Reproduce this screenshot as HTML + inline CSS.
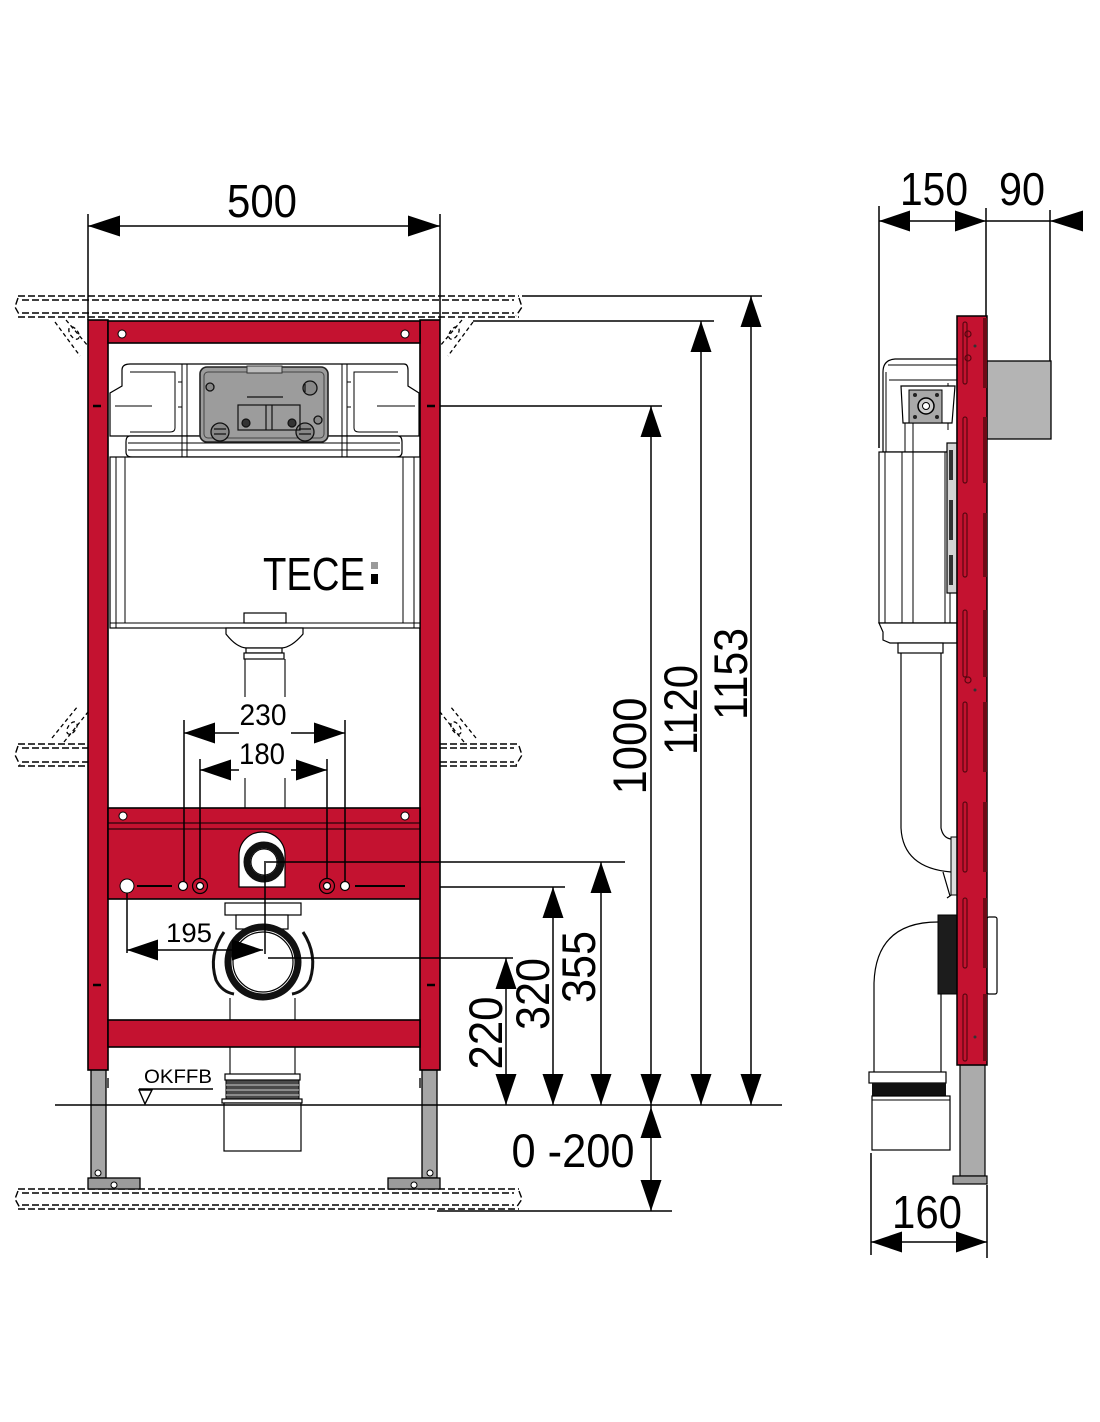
<!DOCTYPE html>
<html><head><meta charset="utf-8"><style>
html,body{margin:0;padding:0;background:#fff;}
svg{display:block;}
text{font-family:"Liberation Sans",Arial,sans-serif;fill:#000;}
</style></head><body>
<svg width="1100" height="1422" viewBox="0 0 1100 1422" xmlns="http://www.w3.org/2000/svg">
<rect width="1100" height="1422" fill="#fff"/>

<!-- dashed wall / ceiling / floor bands -->
<g fill="none" stroke="#000" stroke-width="1.4" stroke-dasharray="7,3">
  <path d="M18,296 H519 M22,300 H514 M22,313 H514 M18,317 H519"/>
  <path d="M18,298 L15,307 L20,316 M519,298 L522,307 L516,316"/>
  <path d="M18,744 H88 M22,748 H88 M22,762 H88 M18,766 H88 M18,746 L15,755 L20,765"/>
  <path d="M440,744 H519 M440,748 H514 M440,762 H514 M440,766 H519 M519,746 L522,755 L516,765"/>
  <path d="M18,1189 H519 M22,1193 H514 M22,1205 H514 M18,1209 H519 M18,1191 L15,1199 L20,1208 M519,1191 L522,1199 L516,1208"/>
</g>
<!-- anchors (schematic) -->
<g fill="none" stroke="#000" stroke-width="1.3" stroke-dasharray="4,3">
  <path d="M55,322 L80,356 M66,320 L88,346"/>
  <ellipse cx="74" cy="333" rx="4" ry="7" transform="rotate(-35 74 333)"/>
  <path d="M473,322 L448,356 M462,320 L440,346"/>
  <ellipse cx="454" cy="333" rx="4" ry="7" transform="rotate(35 454 333)"/>
  <path d="M52,738 L78,706 M64,742 L88,712"/>
  <ellipse cx="72" cy="728" rx="4" ry="7" transform="rotate(35 72 728)"/>
  <path d="M476,738 L450,706 M464,742 L440,712"/>
  <ellipse cx="456" cy="728" rx="4" ry="7" transform="rotate(-35 456 728)"/>
</g>

<!-- ===== FRONT VIEW ===== -->
<!-- legs -->
<g stroke="#000" stroke-width="1.3">
  <rect x="91" y="1068" width="15" height="110" fill="#a6a6a6"/>
  <rect x="422" y="1068" width="15" height="110" fill="#a6a6a6"/>
  <rect x="88" y="1178" width="52" height="11" fill="#9a9a9a"/>
  <rect x="388" y="1178" width="52" height="11" fill="#9a9a9a"/>
</g>
<g fill="#fff" stroke="#000" stroke-width="1">
  <circle cx="98" cy="1173" r="3"/><circle cx="114" cy="1185" r="3"/>
  <circle cx="430" cy="1173" r="3"/><circle cx="414" cy="1185" r="3"/>
</g>
<rect x="106" y="1078" width="3" height="10" fill="#555"/>
<rect x="419" y="1078" width="3" height="10" fill="#555"/>

<!-- posts -->
<g fill="#c41230" stroke="#000" stroke-width="1.6">
  <rect x="88" y="320" width="20" height="750"/>
  <rect x="420" y="320" width="20" height="750"/>
  <rect x="108" y="321" width="312" height="22"/>
</g>
<g fill="#fff" stroke="#000" stroke-width="1">
  <circle cx="122" cy="334" r="4"/><circle cx="405" cy="334" r="4"/>
</g>
<g stroke="#000" stroke-width="2.5">
  <line x1="93" y1="406" x2="101" y2="406"/><line x1="427" y1="406" x2="435" y2="406"/>
  <line x1="93" y1="985" x2="101" y2="985"/><line x1="427" y1="985" x2="435" y2="985"/>
</g>

<!-- cistern upper -->
<g fill="#fff" stroke="#000" stroke-width="1.2">
  <path d="M122,370 Q122,364 130,364 L404,364 Q408,364 408,370 L408,386 L419,393 L419,436 L110,436 L110,393 L122,386 Z"/>
  <path d="M130,436 L398,436 Q402,436 402,442 L402,452 Q402,457 396,457 L132,457 Q126,457 126,452 L126,442 Q126,436 130,436 Z"/>
</g>
<g fill="none" stroke="#000" stroke-width="1">
  <path d="M182,364 V457 M187,364 V457 M342,364 V457 M347,364 V457"/>
  <path d="M128,443 H400 M128,450 H400"/>
  <path d="M130,372 H175 V428 Q175,432 170,432 H130 M398,372 H354 V428 Q354,432 359,432 H398"/>
  <path d="M115,406 H152 M377,406 H415"/>
  <path d="M178,382 h4 M178,407 h4 M347,382 h4 M347,407 h4"/>
</g>
<!-- grey panel -->
<rect x="200" y="367" width="128" height="75" rx="7" fill="#9c9c9c" stroke="#222" stroke-width="1.6"/>
<rect x="204" y="372" width="120" height="66" rx="4" fill="none" stroke="#444" stroke-width="1"/>
<rect x="247" y="366" width="35" height="7" fill="#bdbdbd" stroke="#333" stroke-width="1"/>
<g stroke="#111" stroke-width="1.3" fill="#888">
  <circle cx="220" cy="432" r="9"/><circle cx="305" cy="432" r="9"/>
  <circle cx="310" cy="388" r="7"/>
  <circle cx="210" cy="387" r="4"/><circle cx="318" cy="420" r="4"/>
</g>
<g stroke="#111" stroke-width="1.2" fill="none">
  <path d="M214,429 H226 M214,434 H226 M299,429 H311 M299,434 H311 M305,384 V392"/>
  <rect x="238" y="405" width="62" height="25"/>
  <path d="M266,405 V430 M272,405 V430 M247,397 H283"/>
  <circle cx="246" cy="423" r="4" fill="#333"/><circle cx="292" cy="423" r="4" fill="#333"/>
</g>
<!-- cistern lower -->
<rect x="110" y="457" width="310" height="171" fill="#fff" stroke="#000" stroke-width="1.2"/>
<g stroke="#000" stroke-width="1">
  <path d="M116,457 V628 M125,457 V623 M403,457 V623 M414,457 V628 M110,623 H420"/>
</g>
<text x="263" y="590" font-size="46" textLength="102" lengthAdjust="spacingAndGlyphs">TECE</text>
<rect x="371" y="562" width="7" height="7" fill="#9a9a9a"/>
<rect x="371" y="574" width="7" height="10" fill="#000"/>
<!-- flange / funnel -->
<g fill="#fff" stroke="#000" stroke-width="1.2">
  <rect x="244" y="613" width="42" height="10"/>
  <path d="M226,628 L303,628 L303,634 Q292,647 282,648 L246,648 Q236,647 226,634 Z"/>
  <rect x="246" y="648" width="36" height="5"/>
  <rect x="244" y="653" width="40" height="6"/>
</g>
<g stroke="#000" stroke-width="1.1">
  <path d="M245,659 V697 M285,659 V697 M245,778 V808 M285,778 V808"/>
</g>

<!-- mid crossbar -->
<rect x="108" y="808" width="312" height="91" fill="#c41230" stroke="#000" stroke-width="1.6"/>
<g stroke="#000" stroke-width="1.1"><path d="M108,823 H420 M108,829 H420"/></g>
<g fill="#fff" stroke="#000" stroke-width="1">
  <circle cx="123" cy="816" r="4"/><circle cx="405" cy="816" r="4"/>
</g>
<path d="M239,887 L239,855 A23,23 0 0 1 285,855 L285,887 Z" fill="#fff" stroke="#000" stroke-width="1.2"/>
<circle cx="264" cy="862" r="17" fill="#fff" stroke="#111" stroke-width="7"/>
<circle cx="264" cy="862" r="13" fill="#fff" stroke="#000" stroke-width="1"/>
<circle cx="127" cy="886" r="7" fill="#fff" stroke="#000" stroke-width="1"/>
<g stroke="#000" stroke-width="2"><path d="M137,886 H172 M355,886 H405"/></g>
<g stroke="#000" stroke-width="1.2">
  <circle cx="183" cy="886" r="4.5" fill="#fff"/><circle cx="345" cy="886" r="4.5" fill="#fff"/>
  <circle cx="200" cy="886" r="7.5" fill="#c41230"/><circle cx="327" cy="886" r="7.5" fill="#c41230"/>
  <circle cx="200" cy="886" r="3.5" fill="#fff"/><circle cx="327" cy="886" r="3.5" fill="#fff"/>
</g>

<!-- lower connector -->
<g fill="#fff" stroke="#000" stroke-width="1.2">
  <rect x="225" y="903" width="76" height="12"/>
  <rect x="236" y="915" width="52" height="14"/>
</g>
<g fill="none" stroke="#111" stroke-width="3">
  <path d="M224,932 Q208,955 216,980 Q222,992 234,994"/>
  <path d="M303,932 Q318,955 310,980 Q304,992 292,994"/>
</g>
<circle cx="263" cy="962" r="35" fill="#fff" stroke="#111" stroke-width="7"/>
<circle cx="263" cy="962" r="30" fill="#fff" stroke="#000" stroke-width="1.2"/>
<g stroke="#000" stroke-width="1.1"><path d="M230,998 V1020 M295,998 V1020 M230,1047 V1074 M295,1047 V1074"/></g>

<!-- bottom crossbar -->
<rect x="108" y="1020" width="312" height="27" fill="#c41230" stroke="#000" stroke-width="1.6"/>

<!-- outlet -->
<rect x="225" y="1074" width="75" height="6" fill="#fff" stroke="#000" stroke-width="1.2"/>
<rect x="226" y="1080" width="73" height="19" fill="#4a4a4a" stroke="#000"/>
<g stroke="#ccc" stroke-width="1"><path d="M226,1085 H299 M226,1090 H299 M226,1095 H299"/></g>
<rect x="222" y="1099" width="80" height="4" fill="#fff" stroke="#000" stroke-width="1.2"/>
<rect x="224" y="1103" width="77" height="48" fill="#fff" stroke="#000" stroke-width="1.2"/>

<!-- OKFFB -->
<text x="144" y="1083" font-size="19" textLength="68" lengthAdjust="spacingAndGlyphs">OKFFB</text>
<g stroke="#000" stroke-width="1.4" fill="#fff">
  <path d="M139,1089 H213"/>
  <path d="M139,1090 L152,1090 L145,1104 Z"/>
</g>

<!-- ===== DIMENSIONS FRONT ===== -->
<g stroke="#000" stroke-width="1.5" fill="none">
  <!-- 500 -->
  <path d="M88,214 V320 M440,214 V320 M88,226 H440"/>
  <!-- 230 / 180 -->
  <path d="M184,720 V881 M345,720 V881 M200,759 V879 M327,759 V879"/>
  <path d="M184,733 H239 M291,733 H345 M200,770 H239 M291,770 H327"/>
  <!-- 195 -->
  <path d="M127,893 V953 M127,950 H263 M265,863 V954"/>
  <!-- right horizontal lines -->
  <path d="M522,296 H762 M473,321 H714 M440,406 H662 M264,862 H625 M440,887 H565 M268,958 H513 M55,1105 H782 M437,1211 H672"/>
  <!-- verticals -->
  <path d="M751,296 V1105 M701,321 V1105 M651,406 V1211 M601,862 V1105 M553,887 V1105 M506,958 V1105"/>
</g>
<g fill="#000">
  <!-- 500 -->
  <polygon points="88,226 120,215.5 120,236.5"/>
  <polygon points="440,226 408,215.5 408,236.5"/>
  <!-- 230 -->
  <polygon points="184,733 215,722.5 215,743.5"/>
  <polygon points="345,733 314,722.5 314,743.5"/>
  <!-- 180 -->
  <polygon points="200,770 231,759.5 231,780.5"/>
  <polygon points="327,770 296,759.5 296,780.5"/>
  <!-- 195 -->
  <polygon points="127,950 158,939.5 158,960.5"/>
  <polygon points="263,950 232,939.5 232,960.5"/>
  <!-- up arrows -->
  <polygon points="751,296 740.5,327 761.5,327"/>
  <polygon points="701,321 690.5,352 711.5,352"/>
  <polygon points="651,406 640.5,437 661.5,437"/>
  <polygon points="601,862 590.5,893 611.5,893"/>
  <polygon points="553,887 542.5,918 563.5,918"/>
  <polygon points="506,958 495.5,989 516.5,989"/>
  <!-- down arrows -->
  <polygon points="751,1105 740.5,1074 761.5,1074"/>
  <polygon points="701,1105 690.5,1074 711.5,1074"/>
  <polygon points="651,1105 640.5,1074 661.5,1074"/>
  <polygon points="601,1105 590.5,1074 611.5,1074"/>
  <polygon points="553,1105 542.5,1074 563.5,1074"/>
  <polygon points="506,1105 495.5,1074 516.5,1074"/>
  <!-- 0-200 -->
  <polygon points="651,1107 640.5,1138 661.5,1138"/>
  <polygon points="651,1211 640.5,1180 661.5,1180"/>
</g>

<text x="262" y="217" font-size="46" text-anchor="middle" textLength="70" lengthAdjust="spacingAndGlyphs">500</text>
<text x="263" y="725" font-size="30" text-anchor="middle" textLength="47" lengthAdjust="spacingAndGlyphs">230</text>
<text x="262" y="764" font-size="30" text-anchor="middle" textLength="46" lengthAdjust="spacingAndGlyphs">180</text>
<text x="189" y="942" font-size="27" text-anchor="middle" textLength="46" lengthAdjust="spacingAndGlyphs">195</text>
<text x="573" y="1167" font-size="47" text-anchor="middle" textLength="123" lengthAdjust="spacingAndGlyphs">0 -200</text>

<g font-size="47" text-anchor="middle">
  <text transform="translate(730,674) rotate(-90)" x="0" y="17" textLength="92" lengthAdjust="spacingAndGlyphs">1153</text>
  <text transform="translate(680,710) rotate(-90)" x="0" y="17" textLength="90" lengthAdjust="spacingAndGlyphs">1120</text>
  <text transform="translate(629,746) rotate(-90)" x="0" y="17" textLength="97" lengthAdjust="spacingAndGlyphs">1000</text>
  <text transform="translate(578,967) rotate(-90)" x="0" y="17" textLength="72" lengthAdjust="spacingAndGlyphs">355</text>
  <text transform="translate(532,994) rotate(-90)" x="0" y="17" textLength="72" lengthAdjust="spacingAndGlyphs">320</text>
  <text transform="translate(485,1033) rotate(-90)" x="0" y="17" textLength="73" lengthAdjust="spacingAndGlyphs">220</text>
</g>

<!-- ===== SIDE VIEW ===== -->
<g stroke="#000" stroke-width="1.5" fill="none">
  <path d="M879,206 V448 M986,208 V316 M1050,210 V361 M879,221 H1083"/>
  <path d="M871,1153 V1255 M987,1185 V1258 M871,1242 H987"/>
</g>
<g fill="#000">
  <polygon points="879,221 910,210.5 910,231.5"/>
  <polygon points="986,221 955,210.5 955,231.5"/>
  <polygon points="1050,221 1083,210.5 1083,231.5"/>
  <polygon points="871,1242 902,1231.5 902,1252.5"/>
  <polygon points="987,1242 956,1231.5 956,1252.5"/>
</g>
<text x="934" y="205" font-size="46" text-anchor="middle" textLength="68" lengthAdjust="spacingAndGlyphs">150</text>
<text x="1022" y="205" font-size="46" text-anchor="middle" textLength="46" lengthAdjust="spacingAndGlyphs">90</text>
<text x="927" y="1228" font-size="46" text-anchor="middle" textLength="70" lengthAdjust="spacingAndGlyphs">160</text>

<!-- grey block -->
<rect x="987" y="361" width="64" height="78" fill="#b4b4b4" stroke="#000" stroke-width="1.3"/>

<!-- cistern side -->
<g fill="#fff" stroke="#000" stroke-width="1.2">
  <path d="M883,452 L883,372 Q883,360 895,359 L957,359 L957,452 Z"/>
  <rect x="879" y="452" width="78" height="171"/>
  <path d="M879,623 L883,632 L883,640 L890,643 L957,643 L957,623 Z"/>
  <rect x="898" y="643" width="45" height="10"/>
</g>
<g stroke="#000" stroke-width="1" fill="none">
  <path d="M888,365 H957 M889,380 H957 M886,372 V452"/>
  <path d="M885,452 V623 M902,452 V623 M913,452 V623 M945,452 V623 M950,452 V623"/>
  <path d="M905,423 V452 M913,423 V452 M948,383 V430"/>
</g>
<polygon points="901,386 955,386 952,423 903,423" fill="#fff" stroke="#000" stroke-width="1.2"/>
<rect x="909" y="390" width="33" height="33" fill="#a9a9a9" stroke="#000" stroke-width="1"/>
<circle cx="926" cy="406" r="8" fill="#ccc" stroke="#000" stroke-width="1.5"/>
<circle cx="926" cy="406" r="3.5" fill="#fff" stroke="#000" stroke-width="1"/>
<g fill="#222"><circle cx="915" cy="395" r="2"/><circle cx="937" cy="395" r="2"/><circle cx="915" cy="417" r="2"/><circle cx="937" cy="417" r="2"/></g>
<rect x="947" y="443" width="10" height="150" fill="#d4d4d4" stroke="#000" stroke-width="1.2"/>
<g fill="#333"><rect x="949" y="450" width="4" height="30"/><rect x="949" y="500" width="4" height="40"/><rect x="949" y="555" width="4" height="30"/></g>

<!-- side pipes -->
<g fill="none" stroke="#000" stroke-width="1.2">
  <path d="M901,653 L901,828 Q903,868 951,872"/>
  <path d="M941,653 L941,828 Q943,838 951,839"/>
  <path d="M943,872 L950,896 M947,898 L957,891"/>
  <path d="M938,922 Q876,922 874,983 L874,1072"/>
  <path d="M941,994 L941,1072"/>
</g>
<rect x="951" y="837" width="6" height="58" fill="#ddd" stroke="#000"/>
<rect x="938" y="915" width="19" height="79" fill="#1c1c1c" stroke="#000"/>
<rect x="987" y="917" width="10" height="77" rx="2" fill="#fff" stroke="#000" stroke-width="1.2"/>
<rect x="869" y="1072" width="77" height="11" fill="#fff" stroke="#000" stroke-width="1.2"/>
<rect x="872" y="1083" width="74" height="13" fill="#111"/>
<rect x="872" y="1096" width="78" height="54" fill="#fff" stroke="#000" stroke-width="1.2"/>
<line x1="872" y1="1100" x2="950" y2="1100" stroke="#000"/>

<!-- side post -->
<rect x="960" y="1065" width="25" height="111" fill="#ababab" stroke="#000" stroke-width="1.2"/>
<rect x="953" y="1176" width="34" height="8" fill="#9c9c9c" stroke="#000" stroke-width="1.2"/>
<rect x="957" y="316" width="30" height="749" fill="#c41230" stroke="#000" stroke-width="1.5"/>
<g fill="#6e0a16">
  <rect x="983" y="318" width="4" height="70"/><rect x="983" y="417" width="4" height="66"/>
  <rect x="983" y="513" width="4" height="64"/><rect x="983" y="610" width="4" height="67"/>
  <rect x="983" y="702" width="4" height="70"/><rect x="983" y="802" width="4" height="70"/>
  <rect x="983" y="898" width="4" height="70"/><rect x="983" y="994" width="4" height="67"/>
</g>
<g fill="none" stroke="#5a0610" stroke-width="1.2">
  <rect x="963" y="322" width="4" height="62" rx="2"/><rect x="963" y="417" width="4" height="66" rx="2"/>
  <rect x="963" y="513" width="4" height="64" rx="2"/><rect x="963" y="610" width="4" height="67" rx="2"/>
  <rect x="963" y="702" width="4" height="70" rx="2"/><rect x="963" y="802" width="4" height="70" rx="2"/>
  <rect x="963" y="898" width="4" height="70" rx="2"/><rect x="963" y="994" width="4" height="67" rx="2"/>
  <circle cx="968" cy="334" r="3"/><circle cx="968" cy="358" r="3"/><circle cx="968" cy="680" r="3"/>
</g>
<g fill="#333"><circle cx="975" cy="346" r="1.5"/><circle cx="975" cy="690" r="1.5"/><circle cx="975" cy="1037" r="1.5"/></g>

</svg>
</body></html>
